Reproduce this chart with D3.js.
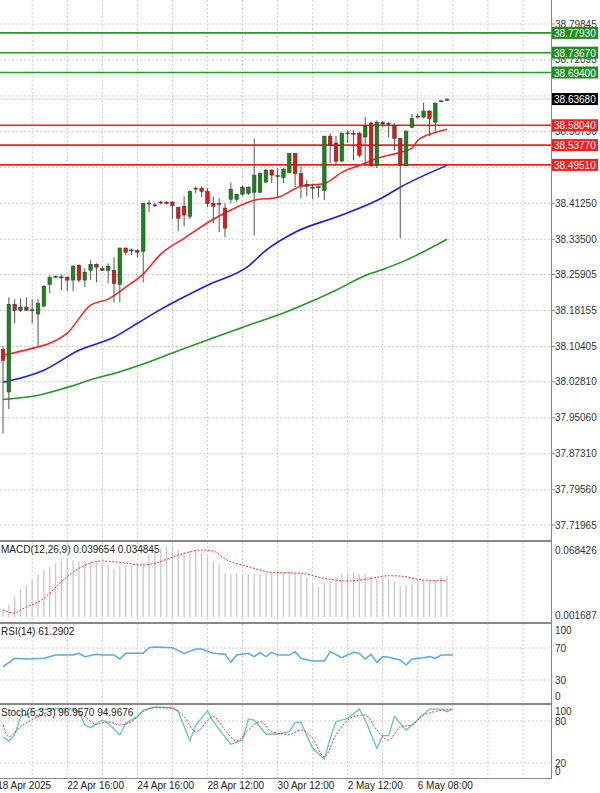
<!DOCTYPE html>
<html><head><meta charset="utf-8">
<script src="https://cdn.jsdelivr.net/npm/d3@7/dist/d3.min.js"></script>
<style>body{margin:0;background:#fff}svg{display:block}text{font-family:"Liberation Sans",Arial,sans-serif}</style>
</head><body>
<svg id="c" width="600" height="793"></svg>
<script>
const opens=[38.098,38.006,38.195,38.182,38.189,38.182,38.174,38.191,38.238,38.253,38.253,38.253,38.247,38.279,38.247,38.268,38.281,38.272,38.268,38.268,38.238,38.316,38.311,38.311,38.309,38.412,38.408,38.415,38.415,38.415,38.404,38.406,38.384,38.444,38.445,38.438,38.412,38.412,38.402,38.421,38.421,38.432,38.434,38.436,38.436,38.458,38.484,38.470,38.468,38.479,38.520,38.477,38.453,38.447,38.447,38.440,38.557,38.542,38.503,38.563,38.563,38.563,38.555,38.585,38.494,38.587,38.585,38.580,38.552,38.494,38.576,38.600,38.598,38.611,38.587,38.632,38.634];
const highs=[38.105,38.210,38.206,38.208,38.210,38.206,38.206,38.236,38.257,38.257,38.259,38.255,38.279,38.281,38.272,38.290,38.283,38.277,38.283,38.296,38.317,38.317,38.315,38.313,38.412,38.419,38.414,38.418,38.417,38.417,38.405,38.427,38.440,38.449,38.449,38.445,38.427,38.423,38.412,38.457,38.431,38.451,38.449,38.552,38.479,38.486,38.486,38.488,38.488,38.520,38.520,38.492,38.462,38.455,38.451,38.557,38.563,38.557,38.565,38.570,38.570,38.567,38.598,38.589,38.591,38.589,38.587,38.585,38.552,38.570,38.605,38.605,38.629,38.613,38.630,38.634,38.636];
const lows=[37.917,37.969,38.154,38.178,38.180,38.154,38.105,38.189,38.219,38.251,38.225,38.223,38.223,38.242,38.232,38.247,38.242,38.266,38.240,38.199,38.199,38.301,38.301,38.296,38.242,38.393,38.404,38.410,38.410,38.378,38.352,38.363,38.378,38.434,38.425,38.404,38.369,38.350,38.339,38.412,38.416,38.429,38.430,38.343,38.434,38.456,38.456,38.425,38.456,38.477,38.447,38.423,38.427,38.421,38.425,38.419,38.499,38.494,38.503,38.542,38.505,38.511,38.494,38.490,38.488,38.576,38.555,38.527,38.337,38.492,38.574,38.595,38.595,38.557,38.565,38.630,38.633];
const closes=[38.074,38.195,38.182,38.189,38.182,38.183,38.197,38.234,38.253,38.255,38.254,38.247,38.277,38.247,38.264,38.281,38.275,38.268,38.277,38.240,38.316,38.307,38.312,38.307,38.412,38.413,38.409,38.414,38.412,38.408,38.380,38.387,38.438,38.445,38.438,38.412,38.406,38.411,38.359,38.443,38.432,38.447,38.447,38.473,38.477,38.484,38.473,38.472,38.486,38.520,38.477,38.451,38.449,38.446,38.448,38.557,38.537,38.503,38.563,38.564,38.562,38.516,38.580,38.494,38.587,38.583,38.584,38.552,38.494,38.567,38.595,38.598,38.611,38.595,38.628,38.633,38.6368];
const maFastIdx=[0,5,8,11,15,18,21,24,27,31,36,40,43,47,51,55,58,61,64,68,70,71,74,76];
const maFast=[38.085,38.100,38.111,38.133,38.193,38.206,38.232,38.260,38.303,38.337,38.378,38.404,38.419,38.425,38.449,38.455,38.479,38.494,38.509,38.522,38.531,38.548,38.565,38.572];
const maMidIdx=[0,7,13,19,23,27,35,42,45,50,58,65,68,76];
const maMid=[38.027,38.053,38.096,38.124,38.154,38.184,38.236,38.277,38.311,38.350,38.387,38.425,38.447,38.494];
const maSlowIdx=[0,6,11,16,19,23,29,35,42,48,54,57,62,65,69,76];
const maSlow=[37.990,37.999,38.016,38.036,38.046,38.062,38.090,38.118,38.150,38.176,38.208,38.225,38.257,38.270,38.290,38.335];
const priceTicks=[38.79845,38.72095,38.5673,38.41250,38.33500,38.25905,38.18155,38.10405,38.02810,37.95060,37.87310,37.79560,37.71965];
const gridPrices=[38.79845,38.72095,38.6436,38.5673,38.4896,38.41250,38.33500,38.25905,38.18155,38.10405,38.02810,37.95060,37.87310,37.79560,37.71965];
const resistance=[38.77930,38.73670,38.69400];
const support=[38.58040,38.53770,38.49510];
const lastPrice=38.63680;
const macdHist=[0.0087,0.0136,0.0219,0.0286,0.0336,0.0385,0.0442,0.0485,0.0518,0.0552,0.0575,0.0592,0.0585,0.0575,0.0575,0.0575,0.0568,0.0552,0.0535,0.0492,0.0525,0.0525,0.0525,0.0535,0.0552,0.0634,0.0667,0.0701,0.0717,0.0717,0.0684,0.0667,0.0674,0.0684,0.0651,0.0617,0.0568,0.0535,0.0452,0.0445,0.0445,0.0445,0.0442,0.0442,0.0442,0.0452,0.0452,0.0462,0.0462,0.0462,0.0452,0.0442,0.0409,0.0352,0.0319,0.0352,0.0369,0.0409,0.0442,0.0452,0.0462,0.0442,0.0442,0.0418,0.0402,0.0402,0.0402,0.0369,0.0329,0.0336,0.0342,0.0385,0.0385,0.0385,0.0385,0.0418,0.0428];
const macdSigIdx=[0,2,3,7,10,13,17,20,24,26,30,34,36,38,42,46,51,55,59,63,66,68,72,76];
const macdSig=[0.0087,0.0054,0.0087,0.0203,0.0369,0.0502,0.0575,0.0561,0.0535,0.0552,0.0634,0.0684,0.0674,0.0595,0.0518,0.0462,0.0452,0.0402,0.0375,0.0402,0.0428,0.0425,0.0385,0.0379];
const rsiIdx=[0,2,4,7,9,12,13,14,16,17,19,20,21,24,25,26,29,31,33,34,36,38,39,40,42,43,44,45,46,47,49,50,51,53,55,56,58,60,61,62,63,64,65,66,68,69,70,72,73,74,75,77];
const rsiVals=[46.7,57.1,56.2,57.1,61.2,61.2,63.3,59.2,62.1,61.2,61.2,56.2,63.3,63.3,70.4,71.2,70.4,63.3,68.7,68.7,63.3,62.1,52.1,61.2,63.3,59.2,64.6,59.2,64.6,61.2,61.2,65.4,57.1,53.7,53.7,65.4,57.9,64.6,63.3,56.2,62.1,52.1,59.2,58.3,55.0,48.7,56.2,57.9,59.2,57.1,61.2,61.2];
const stIdx=[0,1,2,3,6,9,12,13,14,15,17,18,20,21,23,24,26,29,30,32,33,35,36,39,41,42,43,45,47,49,50,51,53,55,56,57,59,61,62,64,65,66,67,69,70,73,75,76,77];
const stMain=[57.6,51.4,60.0,86.2,95.7,98.1,98.1,93.3,74.3,70.5,81.4,76.7,60.0,76.7,86.2,95.7,100,99.0,93.3,51.9,74.3,94.7,79.0,46.7,52.9,82.9,81.4,61.4,61.4,64.8,78.1,78.1,41.0,25.7,55.2,79.0,83.8,97.1,81.4,41.0,59.0,59.0,86.2,67.1,74.3,97.1,97.1,93.3,97.1];
const stSigIdx=[0,1,3,6,9,12,14,16,18,20,22,24,26,29,31,33,36,38,40,42,44,46,49,51,53,55,57,60,62,64,66,68,70,72,77];
const stSig=[74.3,57.6,71.9,86.2,95.7,95.7,86.2,75.2,79.0,74.3,79.0,93.3,99.0,98.1,86.2,64.8,86.2,67.1,51.4,67.1,79.0,64.8,60.9,67.1,55.2,29.0,60.0,86.2,88.6,67.1,52.9,71.9,74.3,88.6,97.1];
const timeIdx=[-1,11,23,35,47,59,71];
const timeLabels=["18 Apr 2025","22 Apr 16:00","24 Apr 16:00","28 Apr 12:00","30 Apr 12:00","2 May 12:00","6 May 08:00"];

const svg=d3.select("#c");
const W=551;
const x=d3.scaleLinear().domain([0,76]).range([3,447]);
const y=d3.scaleLinear().domain([37.71965,38.79845]).range([525,24]);
const yM=d3.scaleLinear().domain([0.001687,0.068426]).range([617,550]);
const yR=d3.scaleLinear().domain([0,100]).range([704,624]);
const yS=d3.scaleLinear().domain([0,100]).range([777,707]);
const panels=[[0,540],[542,622],[624,703],[705,778]];
const gridC="#cfcfcf";
// vertical grid
const vg=d3.range(5,95,6).map(i=>x(i)).filter(v=>v<W);
panels.forEach(([t,b])=>{
  svg.append("g").selectAll("line").data(vg).join("line").attr("x1",d=>d).attr("x2",d=>d).attr("y1",t).attr("y2",b)
   .attr("stroke",gridC).attr("stroke-dasharray","2,2");
});
svg.append("g").selectAll("line").data(gridPrices).join("line").attr("x1",0).attr("x2",W).attr("y1",d=>y(d)).attr("y2",d=>y(d))
  .attr("stroke",gridC).attr("stroke-dasharray","2,2");
[[yR,[70,30]],[yS,[80,20]]].forEach(([s,v])=>svg.append("g").selectAll("line").data(v).join("line").attr("x1",0).attr("x2",W)
  .attr("y1",d=>s(d)).attr("y2",d=>s(d)).attr("stroke",gridC).attr("stroke-dasharray","2,2"));
// last price line
svg.append("line").attr("x1",0).attr("x2",W).attr("y1",y(lastPrice)).attr("y2",y(lastPrice)).attr("stroke","#d8d8d8");
// levels
resistance.forEach(v=>svg.append("line").attr("x1",0).attr("x2",W).attr("y1",y(v)).attr("y2",y(v)).attr("stroke","#2a962a").attr("stroke-width",1.6));
support.forEach(v=>svg.append("line").attr("x1",0).attr("x2",W).attr("y1",y(v)).attr("y2",y(v)).attr("stroke","#ff1a1a").attr("stroke-width",1.6));
// MAs
const ln=(idx,vals,sc)=>d3.line().x((d,i)=>x(idx[i])).y(d=>sc(d)).curve(d3.curveMonotoneX)(vals);
svg.append("path").attr("d",ln(maSlowIdx,maSlow,y)).attr("fill","none").attr("stroke","#1f9a1f").attr("stroke-width",1.6);
svg.append("path").attr("d",ln(maMidIdx,maMid,y)).attr("fill","none").attr("stroke","#1a1aff").attr("stroke-width",1.6);
svg.append("path").attr("d",ln(maFastIdx,maFast,y)).attr("fill","none").attr("stroke","#ff2424").attr("stroke-width",1.6);
// candles
const cg=svg.append("g");
opens.forEach((o,i)=>{
  const c=closes[i],up=c>=o;
  cg.append("line").attr("x1",x(i)).attr("x2",x(i)).attr("y1",y(highs[i])).attr("y2",y(lows[i])).attr("stroke","#555").attr("stroke-width",1);
  const t=y(Math.max(o,c)),h=Math.max(1,Math.abs(y(o)-y(c)));
  cg.append("rect").attr("x",x(i)-1.8).attr("y",t).attr("width",3.6).attr("height",h)
    .attr("fill",up?"#138a13":"#ee1111").attr("stroke","#333").attr("stroke-width",0.5);
});
// MACD
svg.append("g").selectAll("line").data(macdHist).join("line").attr("x1",(d,i)=>x(i)).attr("x2",(d,i)=>x(i))
  .attr("y1",yM(0.001687)).attr("y2",d=>yM(d)).attr("stroke","#c8c8c8").attr("stroke-width",1.3);
svg.append("path").attr("d",ln(macdSigIdx,macdSig,yM)).attr("fill","none").attr("stroke","#ff3030").attr("stroke-dasharray","2,1.5");
// RSI
svg.append("path").attr("d",d3.line().x((d,i)=>x(rsiIdx[i])).y(d=>yR(d))(rsiVals)).attr("fill","none").attr("stroke","#5aa8f0").attr("stroke-width",1.5);
// Stoch
svg.append("path").attr("d",d3.line().x((d,i)=>x(stIdx[i])).y(d=>yS(d))(stMain)).attr("fill","none").attr("stroke","#5cc8c0").attr("stroke-width",1.3);
svg.append("path").attr("d",d3.line().x((d,i)=>x(stSigIdx[i])).y(d=>yS(d)).curve(d3.curveMonotoneX)(stSig)).attr("fill","none").attr("stroke","#ff3030").attr("stroke-dasharray","2,1.5");
// borders
[540,622,703].forEach(v=>svg.append("rect").attr("x",0).attr("y",v).attr("width",W).attr("height",2).attr("fill","#888"));
svg.append("line").attr("x1",0).attr("x2",W).attr("y1",778.5).attr("y2",778.5).attr("stroke","#888");
svg.append("line").attr("x1",W+0.5).attr("x2",W+0.5).attr("y1",0).attr("y2",779).attr("stroke","#888");
// price axis
const fs=10;
svg.append("g").selectAll("text").data(priceTicks).join("text").attr("x",555).attr("y",d=>y(d)+3.5).text(d=>d.toFixed(5))
  .attr("font-size",fs).attr("fill","#333");
svg.append("g").selectAll("line").data(gridPrices).join("line").attr("x1",W).attr("x2",W+4).attr("y1",d=>y(d)).attr("y2",d=>y(d)).attr("stroke","#888");
const box=(v,col)=>{const yy=y(v);svg.append("rect").attr("x",552).attr("y",yy-6).attr("width",46).attr("height",12).attr("fill",col);
  svg.append("text").attr("x",554).attr("y",yy+4).text(v.toFixed(5)).attr("font-size",fs).attr("fill","#fff");};
resistance.forEach(v=>box(v,"#1f8f1f"));support.forEach(v=>box(v,"#ff1a1a"));box(lastPrice,"#000");
// subpanel axes
const sub=(s,vals,fmt,t,b)=>svg.append("g").selectAll("text").data(vals).join("text").attr("x",555)
  .attr("y",d=>Math.min(b-3,Math.max(t+10,s(d)+4))).text(fmt).attr("font-size",fs).attr("fill","#333");
sub(yM,[0.068426,0.001687],d=>d.toFixed(6),542,622);
sub(yR,[100,70,30,0],d=>d,624,703);
sub(yS,[100,80,20,0],d=>d,705,778);
// titles
svg.append("text").attr("x",1).attr("y",553).text("MACD(12,26,9) 0.039654 0.034845").attr("font-size",fs).attr("fill","#222");
svg.append("text").attr("x",1).attr("y",635).text("RSI(14) 61.2902").attr("font-size",fs).attr("fill","#222");
svg.append("text").attr("x",1).attr("y",716).text("Stoch(5,3,3) 96.9570 94.9676").attr("font-size",fs).attr("fill","#222");
// time axis
svg.append("g").selectAll("text").data(timeIdx).join("text").attr("x",d=>x(d)).attr("y",789).text((d,i)=>timeLabels[i])
  .attr("font-size",fs).attr("fill","#222");
</script></body></html>
